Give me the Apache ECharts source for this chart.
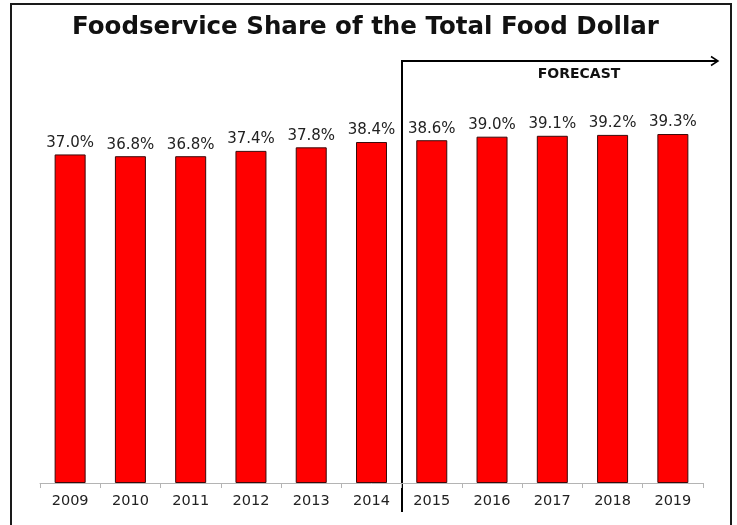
<!DOCTYPE html>
<html>
<head>
<meta charset="utf-8">
<script src="https://cdn.jsdelivr.net/npm/echarts@6/dist/echarts.min.js"></script>
<style>
  html, body { margin: 0; padding: 0; background: #fff; }
  #chart { width: 737px; height: 525px; }
</style>
</head>
<body>
<div id="chart"></div>
<script>
// Foodservice share of total food dollar, actual and forecast years
const years = ['2009', '2010', '2011', '2012', '2013', '2014', '2015', '2016', '2017', '2018', '2019'];
const shares = [37.0, 36.8, 36.8, 37.4, 37.8, 38.4, 38.6, 39.0, 39.1, 39.2, 39.3];
const lastActualYear = '2014';
const firstForecastYear = '2015';

const FONT = 'DejaVu Sans';
const chart = echarts.init(document.getElementById('chart'), null, { renderer: 'canvas' });

chart.setOption({
  animation: false,
  backgroundColor: '#ffffff',
  title: {
    text: 'Foodservice Share of the Total Food Dollar',
    left: 67,
    top: 10,
    textStyle: { fontFamily: FONT, fontSize: 24.5, fontWeight: 'bold', color: '#111' }
  },
  grid: { left: 40, right: 34, top: 39, bottom: 42, containLabel: false },
  xAxis: {
    type: 'category',
    data: years,
    axisLine: { lineStyle: { color: '#b4b4b4', width: 1 } },
    axisTick: { show: true, length: 5, lineStyle: { color: '#b4b4b4' } },
    axisLabel: { fontFamily: FONT, fontSize: 14.5, color: '#222', margin: 11 }
  },
  yAxis: {
    type: 'value',
    min: 0,
    max: 50,
    show: false,
    splitLine: { show: false }
  },
  series: [{
    type: 'bar',
    data: shares,
    barWidth: 31,
    itemStyle: { color: '#ff0000', borderColor: '#3a0a0a', borderWidth: 1 },
    label: {
      show: true,
      position: 'top',
      distance: 4,
      fontFamily: FONT,
      fontSize: 15,
      color: '#222',
      formatter: p => p.value.toFixed(1) + '%'
    }
  }]
});

// Divider between actual and forecast years, with the forecast arrow
const xa = chart.convertToPixel({ xAxisIndex: 0 }, lastActualYear);
const xb = chart.convertToPixel({ xAxisIndex: 0 }, firstForecastYear);
const divX = Math.round((xa + xb) / 2);

chart.setOption({
  graphic: [
    {
      type: 'rect',
      shape: { x: 11, y: 4, width: 720, height: 540 },
      style: { fill: 'none', stroke: '#1a1a1a', lineWidth: 2 },
      silent: true
    },
    {
      type: 'line',
      shape: { x1: divX, y1: 60, x2: divX, y2: 512 },
      style: { stroke: '#000', lineWidth: 2 },
      silent: true
    },
    {
      type: 'line',
      shape: { x1: divX - 1, y1: 61, x2: 718, y2: 61 },
      style: { stroke: '#000', lineWidth: 2 },
      silent: true
    },
    {
      type: 'polyline',
      shape: { points: [[711, 56.5], [718, 61], [711, 65.5]] },
      style: { fill: 'none', stroke: '#000', lineWidth: 1.5 },
      silent: true
    },
    {
      type: 'text',
      x: 579,
      y: 74,
      style: {
        text: 'FORECAST',
        fontFamily: FONT,
        fontSize: 14,
        fontWeight: 'bold',
        fill: '#111',
        align: 'center',
        verticalAlign: 'middle'
      },
      silent: true
    }
  ]
});
</script>
</body>
</html>
